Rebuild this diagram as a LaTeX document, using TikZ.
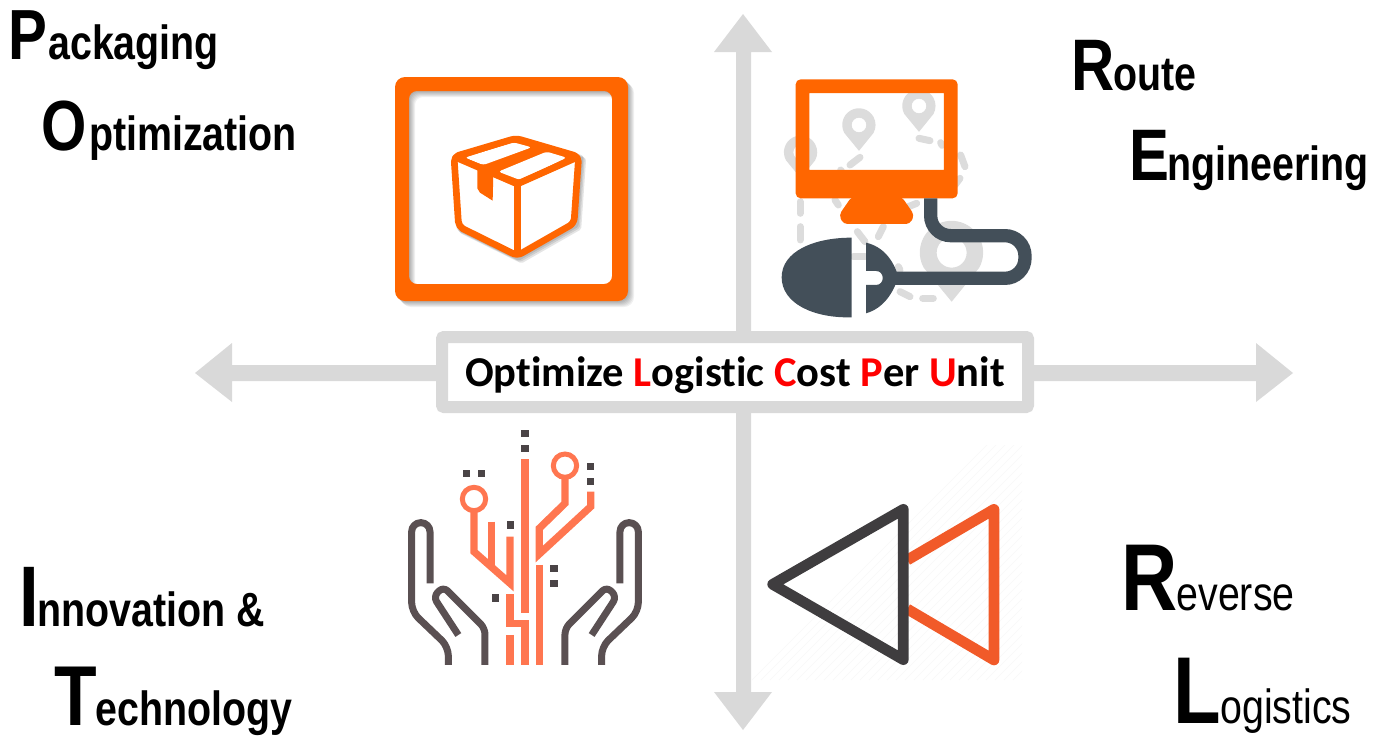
\documentclass[tikz,border=0pt]{standalone}
\usepackage{fontspec}
\setmainfont{Carlito}
\newfontfamily\hdcap[FakeStretch=0.82]{Liberation Sans Bold}
\newfontfamily\hd[FakeStretch=0.82]{Liberation Sans Bold}
\newfontfamily\hdr[FakeStretch=0.82]{Liberation Sans}
\newfontfamily\ctr[Ligatures=NoCommon,Contextuals=NoAlternate]{Carlito Bold}
\definecolor{crossg}{HTML}{D9D9D9}
\definecolor{ora}{HTML}{FF6600}
\definecolor{pin}{HTML}{DCDCDC}
\definecolor{slate}{HTML}{434F59}
\definecolor{hand}{HTML}{5A5052}
\definecolor{circ}{HTML}{FF7650}
\definecolor{sq}{HTML}{4A4446}
\definecolor{tri}{HTML}{3F3D3F}
\definecolor{trio}{HTML}{F15A29}
\definecolor{stripe}{HTML}{F9F9F9}
% name, x, baseline y, capital size, capital, kern, rest, font of the rest
\newcommand{\hlabel}[8]{\node[anchor=base west,inner sep=0pt] (#1) at (#2,#3) {\hdcap\fontsize{#4}{#4}\selectfont #5\kern #6pt#8\fontsize{48}{48}\selectfont #7};}
\newcommand{\pinshape}[4]{\fill[pinfill] (#1,#2) ++(-#3*0.88,#3*0.48) arc[start angle=151,end angle=389,radius=#3] -- (#1,#2+#3*1.55) -- cycle (#1,#2) circle[radius=#4];}
\begin{document}
\begin{tikzpicture}[x=1pt,y=-1pt,
  crossarrow/.style={fill=crossg,draw=none},
  zoomed/.style={x=0.3333pt,y=-0.3333pt},
  pinfill/.style={fill=pin,even odd rule},
  dashmark/.style={draw=pin,line width=7pt,line cap=round},
  cable/.style={draw=slate,line width=13.3pt},
  handline/.style={draw=hand,line width=7pt,line join=round},
  circline/.style={draw=circ,line width=7.3pt},
  squaremark/.style={fill=sq,draw=none,minimum size=7.3pt,inner sep=0pt},
  boxline/.style={draw=ora,line width=6.7pt,line join=round},
  softshadow/.style={fill=black,opacity=0.06,even odd rule},
  stripeline/.style={draw=stripe,line width=0.8pt}]
\useasboundingbox (0,0) rectangle (1375,737);
% cross arrows
\fill[crossarrow] (743,14) -- (772,52) -- (751,52) -- (751,692) -- (772,692) -- (743,730) -- (714,692) -- (736,692) -- (736,52) -- (714,52) -- cycle;
\fill[crossarrow] (195,373) -- (232,343) -- (232,365) -- (1256,365) -- (1256,343) -- (1293,373) -- (1256,402) -- (1256,381) -- (232,381) -- (232,402) -- cycle;
% centre box
\node[draw=crossg,fill=white,line width=12pt,rounded corners=2pt,minimum width=586pt,minimum height=70pt,inner sep=0pt] (centre) at (735,372) {};
\node[anchor=base,inner sep=0pt] (title) at (735,386) {\ctr\fontsize{42.5}{42.5}\selectfont Optimize \textcolor{red}{L}ogistic \textcolor{red}{C}ost \textcolor{red}{P}er \textcolor{red}{U}nit};
% headings
\hlabel{h1}{8}{59.5}{71}{P}{1.2}{ackaging}{\hd}
\hlabel{h2}{41}{150}{71}{O}{2.6}{ptimization}{\hd}
\hlabel{h3}{1071}{90.7}{73}{R}{-0.7}{oute}{\hd}
\hlabel{h4}{1129}{180}{73}{E}{-1.4}{ngineering}{\hd}
\hlabel{h5}{19}{626}{86}{I}{-1.2}{nnovation \&}{\hd}
\hlabel{h6}{54}{725}{85}{T}{-1.1}{echnology}{\hd}
\hlabel{h7}{1121}{610}{95}{R}{-1}{everse}{\hdr}
\hlabel{h8}{1173}{723.5}{95}{L}{-0.5}{ogistics}{\hdr}
% packaging icon
\foreach \d in {1,2,...,6}{
  \fill[softshadow,shift={(\d,\d)},rounded corners=10pt] (395,77) -- (628,77) -- (628,301) -- (395,301) -- cycle
    [rounded corners=8pt] (409,91) -- (612,91) -- (612,284) -- (409,284) -- cycle;
}
\fill[ora,even odd rule,rounded corners=10pt] (395,77) -- (628,77) -- (628,301) -- (395,301) -- cycle
  [rounded corners=8pt] (409,91) -- (612,91) -- (612,284) -- (409,284) -- cycle;
\begin{scope}[shift={(380,60)},zoomed]
  \foreach \d in {4,8,12}{
    \draw[draw=black,opacity=0.1,line width=6.7pt,line join=round,shift={(\d,\d)}] (408,235) -- (596,290) -- (582,490) -- (412,587) -- (236,500) -- (222,290) -- cycle;
  }
  \fill[white] (408,235) -- (596,290) -- (582,490) -- (412,587) -- (236,500) -- (222,290) -- cycle;
  \fill[ora] (408,235) -- (596,290) -- (412,372) -- (222,290) -- cycle;
  \fill[white,rounded corners=3pt] (255,293) -- (400,247) -- (455,262) -- (310,315) -- cycle;
  \fill[white,rounded corners=3pt] (355,335) -- (500,275) -- (560,293) -- (420,360) -- cycle;
  \draw[boxline,rounded corners=5pt] (408,235) -- (596,290) -- (582,490) -- (412,587) -- (236,500) -- (222,290) -- cycle;
  \draw[boxline] (412,372) -- (412,587);
  \draw[boxline] (222,290) -- (412,372) -- (596,290);
  \fill[ora] (292,330) -- (340,340) -- (338,422) -- (300,398) -- (292,385) -- cycle;
\end{scope}
% route icon
\begin{scope}[shift={(770,70)},zoomed]
  \pinshape{447}{108}{50}{22}
  \pinshape{267}{165}{50}{22}
  \pinshape{92}{247}{50}{22}
  \pinshape{545}{548}{95}{45}
  \foreach \a/\b/\c/\e in {447/205/480/212, 512/218/516/226, 572/255/585/290, 570/325/555/345, 440/400/415/410, 340/470/325/500, 262/485/285/515, 250/560/285/560, 195/390/205/405, 90/395/90/430, 90/470/90/510, 240/285/270/262, 390/665/420/680, 458/685/490/685, 385/590/390/600, 212/300/215/305}
    {\draw[dashmark] (\a,\b) -- (\c,\e);}
  \fill[ora,even odd rule,rounded corners=5pt] (77,28) -- (563,28) -- (563,385) -- (77,385) -- cycle
     [sharp corners] (118,69) -- (522,69) -- (522,300) -- (118,300) -- cycle;
  \fill[ora,rounded corners=4pt] (245,380) -- (395,380) -- (433,435) -- (420,462) -- (220,462) -- (207,435) -- cycle;
  \draw[cable,rounded corners=20pt] (482,385) -- (482,497) -- (765,497) -- (765,625) -- (375,625);
  \fill[slate] (245,503) .. controls (130,503) and (35,545) .. (35,622) .. controls (35,700) and (130,745) .. (245,742) -- cycle;
  \fill[slate] (288,518) .. controls (340,530) and (370,570) .. (385,620) .. controls (370,670) and (340,715) .. (288,730) -- (288,645) -- (318,645) .. controls (345,645) and (345,603) .. (318,603) -- (288,603) -- cycle;
\end{scope}
% innovation icon
\begin{scope}[shift={(390,420)},zoomed]
  \foreach \m/\s in {0/1,810/-1}{
   \begin{scope}[shift={(\m,0)},xscale=\s]
    \draw[handline,rounded corners=9pt] (120,490) -- (120,308) -- (65,308) -- (65,575) -- (175,680) -- (175,735);
    \draw[handline,rounded corners=6pt] (205,645) -- (130,530) -- (160,500) -- (285,625) -- (285,735);
   \end{scope}
  }
  \draw[circline] (405,118) -- (405,578);
  \draw[circline,line width=5pt] (252,237) circle[radius=35];
  \draw[circline,line join=miter] (252,272) -- (252,395) -- (360,490) -- (360,350);
  \draw[circline] (305,305) -- (305,440);
  \draw[circline,line width=5pt] (525,137) circle[radius=35];
  \draw[circline,line join=miter] (525,172) -- (525,250) -- (448,325) -- (448,402) -- (602,260) -- (602,215);
  \draw[circline] (448,435) -- (448,735);
  \draw[circline,line join=miter] (360,523) -- (360,610) -- (405,610) -- (405,735);
  \draw[circline] (360,645) -- (360,735);
  \foreach \p [count=\i] in {(405,40),(405,85),(229,161),(274,161),(602,139),(602,184),(361,315),(492,446),(492,490),(317,534)}
    {\node[squaremark] (sq\i) at \p {};}
\end{scope}
% reverse icon
\begin{scope}
  \clip (752,445) rectangle (1022,680);
  \foreach \k in {0,9,...,520}{
    \draw[stripeline] (752+\k,680) -- (1022+\k-35,445);
  }
\end{scope}
\begin{scope}[shift={(750,480)},zoomed]
  \draw[draw=trio,line width=10.7pt,line join=round] (472,240) -- (732,88) -- (732,540) -- (472,387);
  \draw[draw=tri,line width=10.7pt,line join=round] (460,88) -- (68,313) -- (460,539) -- cycle;
\end{scope}
\end{tikzpicture}
\end{document}
